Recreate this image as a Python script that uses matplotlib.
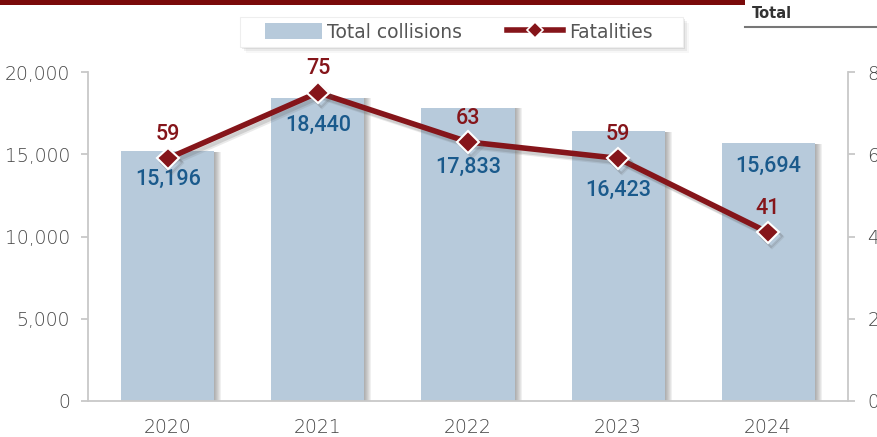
import matplotlib
matplotlib.use("Agg")
import matplotlib.pyplot as plt
from matplotlib import patheffects as pe
from matplotlib.lines import Line2D
from matplotlib.patches import Patch, Rectangle
from matplotlib.ticker import FuncFormatter

years = ["2020", "2021", "2022", "2023", "2024"]
collisions = [15196, 18440, 17833, 16423, 15694]
fatalities = [59, 75, 63, 59, 41]

BAR = "#b7cadb"
RED = "#85151a"
BLUE = "#1a5a8c"
AXC = "#c8c8c8"
TXT = "#444444"

W, H = 877, 437
fig = plt.figure(figsize=(W / 100, H / 100), dpi=100)
ax = fig.add_axes([88 / W, 1 - 401 / H, (848 - 88) / W, (401 - 72) / H])
ax2 = ax.twinx()

x = list(range(len(years)))
bars = ax.bar(x, collisions, width=0.62, color=BAR, zorder=2)
bar_fx = [pe.SimplePatchShadow(offset=(k * 0.72, -0.5), shadow_rgbFace="#606060", alpha=0.09)
          for k in range(7, 0, -1)] + [pe.Normal()]
for b in bars:
    b.set_path_effects(bar_fx)

ax.set_xlim(-0.533, len(years) - 1 + 0.533)
ax.set_ylim(0, 20000)
ax.set_yticks([0, 5000, 10000, 15000, 20000])
ax.yaxis.set_major_formatter(FuncFormatter(lambda v, p: f"{int(v):,}"))
ax.set_xticks(x)
ax.set_xticklabels(years)

ax2.set_ylim(0, 80)
ax2.set_yticks([0, 20, 40, 60, 80])

for a in (ax, ax2):
    a.spines["top"].set_visible(False)
    for s in ("left", "right", "bottom"):
        a.spines[s].set_color(AXC)
        a.spines[s].set_linewidth(1.3)
ax.spines["right"].set_visible(False)
ax2.spines["left"].set_visible(False)
ax2.spines["bottom"].set_visible(False)

ax.tick_params(axis="y", length=5, color=AXC, width=1.3, pad=8, labelsize=13.5, labelcolor=TXT)
ax.tick_params(axis="x", length=0, pad=12, labelsize=13.5, labelcolor=TXT)
ax2.tick_params(axis="y", length=5, color=AXC, width=1.3, pad=9, labelsize=13.5, labelcolor=TXT)
for lab in ax.get_yticklabels() + ax.get_xticklabels() + ax2.get_yticklabels():
    lab.set_fontweight("light")

ln, = ax2.plot(x, fatalities, color=RED, lw=4, marker="D", markersize=11,
               markerfacecolor=RED, markeredgecolor="white", markeredgewidth=1.5, zorder=5,
               solid_capstyle="butt")
ln.set_path_effects([pe.SimpleLineShadow(offset=(2, -2.5), shadow_color="#555555", alpha=0.18),
                     pe.SimpleLineShadow(offset=(3, -3.5), shadow_color="#555555", alpha=0.12),
                     pe.Normal()])

coll_off = [28, 28, 60, 60, 24]
for xi, v, o in zip(x, collisions, coll_off):
    ax.annotate(f"{v:,}", (xi, v), xytext=(0, -o * 0.72), textcoords="offset points",
                ha="center", va="center", fontsize=15.5, color=BLUE, family="Roboto",
                fontweight="medium", zorder=6)
for xi, v in zip(x, fatalities):
    ax2.annotate(f"{v}", (xi, v), xytext=(0, 17), textcoords="offset points",
                 ha="center", va="center", fontsize=15.5, color=RED, family="Roboto",
                 fontweight="medium", zorder=6)

# legend box with shadow
for k, a in [(6, 0.06), (4, 0.1), (2, 0.15)]:
    fig.patches.append(Rectangle(((240 + k) / W, 1 - (47 + k) / H), 443 / W, 30 / H,
                                 transform=fig.transFigure, facecolor="#777777",
                                 edgecolor="none", alpha=a, zorder=1))
fig.patches.append(Rectangle((240 / W, 1 - 47 / H), 443 / W, 30 / H, transform=fig.transFigure,
                             facecolor="white", edgecolor="#eeeeee", lw=0.8, zorder=2))

handles = [Patch(facecolor=BAR, edgecolor="none"),
           Line2D([], [], color=RED, lw=4, marker="D", markersize=8,
                  markerfacecolor=RED, markeredgecolor="white", markeredgewidth=1.2)]
leg = fig.legend(handles, ["Total collisions", "Fatalities"], ncol=2,
                 loc="center", bbox_to_anchor=(459 / W, 1 - 32 / H),
                 frameon=False,
                 handlelength=3.0, handleheight=0.9, handletextpad=0.3, columnspacing=2.4,
                 borderpad=0.35, prop={"family": "Liberation Sans Narrow", "size": 13.5})
leg.set_zorder(5)
for t in leg.get_texts():
    t.set_color("#555555")

# top banner
fig.patches.append(Rectangle((0, 1 - 5 / H), 745 / W, 5 / H, transform=fig.transFigure,
                             facecolor="#7a0a0a", edgecolor="none"))
fig.text(752 / W, 1 - 14 / H, "Total", ha="left", va="center", fontsize=10.5,
         fontweight="bold", color="#333333", family="Liberation Sans Narrow")
fig.add_artist(Line2D([745 / W, 1], [1 - 27 / H, 1 - 27 / H], transform=fig.transFigure,
                      color="#777777", lw=1.5))

fig.savefig("out.png", dpi=100)
